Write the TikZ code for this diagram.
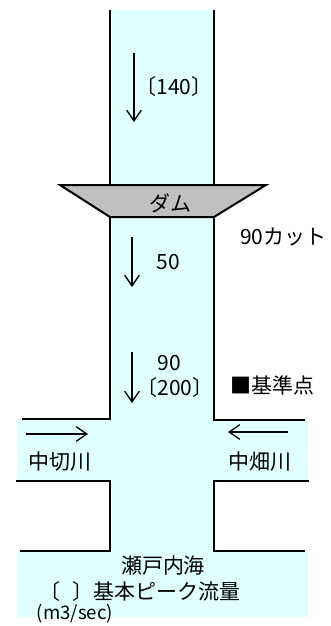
\documentclass[tikz,border=0pt]{standalone}
\usepackage{fontspec}
\setmainfont{Noto Sans CJK JP}
\usetikzlibrary{arrows.meta}
\definecolor{water}{RGB}{224,255,255}
\definecolor{damgray}{RGB}{192,192,192}
\tikzset{
  bank/.style={line width=1.5pt},
  flow/.style={line width=1pt,-{Straight Barb[length=8pt,width=11pt]}},
  lbl/.style={inner sep=0pt,font=\fontsize{15.75}{18}\selectfont},
  small/.style={inner sep=0pt,font=\fontsize{14}{15}\selectfont},
}
\begin{document}
\begin{tikzpicture}[x=0.75pt,y=-0.75pt]
  \useasboundingbox (0,0) rectangle (331,626);
  \fill[white] (0,0) rectangle (331,626);

  % water
  \fill[water] (110,10) rectangle (214,420);
  \fill[water] (17,420) rectangle (308,617);
  \fill[white] (17,481) rectangle (110,551);
  \fill[white] (214,481) rectangle (308,551);

  % banks
  \draw[bank] (110,10) -- (110,419) -- (22,419);
  \draw[bank] (214,10) -- (214,420) -- (305,420);
  \draw[bank] (16,481) -- (110,481) -- (110,551) -- (20,551);
  \draw[bank] (309,481) -- (214,481) -- (214,551) -- (305,551);

  % dam
  \draw[bank,fill=damgray] (60,185) -- (266,185) -- (214,217) -- (110,217) -- cycle;
  \node[lbl] (dam) at (170,203) {ダム};

  % flows
  \coordinate (up1) at (134,53);   \coordinate (up2) at (134,122);
  \coordinate (mid1) at (132,237); \coordinate (mid2) at (132,287);
  \coordinate (low1) at (132,352); \coordinate (low2) at (132,403);
  \coordinate (lt1) at (26,434);   \coordinate (lt2) at (88,434);
  \coordinate (rt1) at (288,432);  \coordinate (rt2) at (228,432);
  \draw[flow] (up1) -- (up2);
  \draw[flow] (mid1) -- (mid2);
  \draw[flow] (low1) -- (low2);
  \draw[flow] (lt1) -- (lt2);
  \draw[flow] (rt1) -- (rt2);

  % labels
  \node[lbl] (q140) at (174,87) {〔140〕};
  \node[lbl,anchor=west] (cut) at (240,237) {90カット};
  \node[lbl] (q50) at (168,262) {50};
  \node[lbl] (q90) at (169,363) {90};
  \node[lbl] (q200) at (175,388) {〔200〕};
  \node[lbl,anchor=west] (base) at (230,385) {■基準点};
  \node[lbl] (nakagiri) at (60,462) {中切川};
  \node[lbl] (nakahata) at (260,462) {中畑川};
  \node[lbl] (sea) at (163,566) {瀬戸内海};
  \node[lbl,anchor=east] (peak) at (241,592) {〔\hspace{0.6em}〕基本ピーク流量};
  \node[small] (unit) at (75,614) {(m3/sec)};
\end{tikzpicture}
\end{document}
